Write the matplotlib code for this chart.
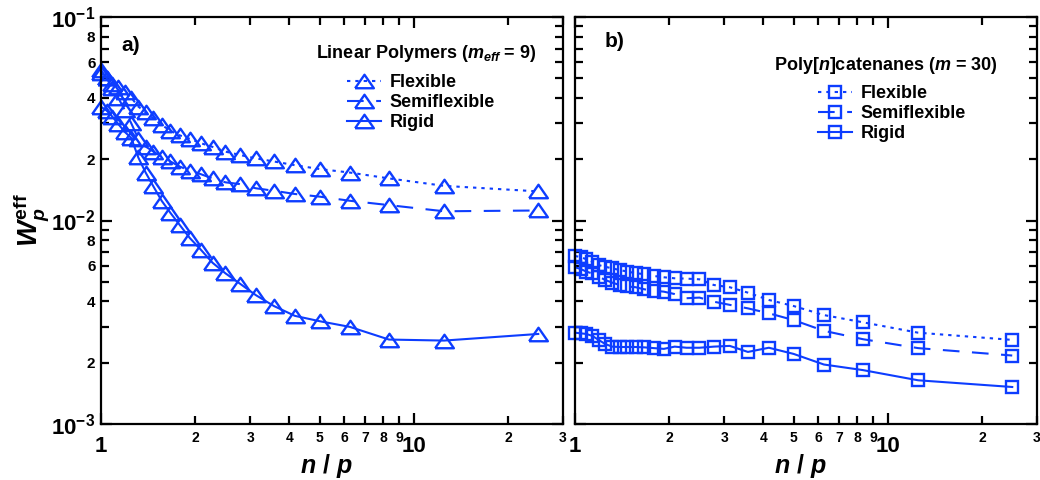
import matplotlib
matplotlib.use("Agg")
import matplotlib.pyplot as plt
from matplotlib.lines import Line2D
from matplotlib.ticker import FixedLocator, FixedFormatter, NullFormatter

plt.rcParams['font.family'] = ['Liberation Sans', 'DejaVu Sans']
plt.rcParams['font.weight'] = 'bold'
plt.rcParams['mathtext.fontset'] = 'custom'
plt.rcParams['mathtext.rm'] = 'Liberation Sans:bold'
plt.rcParams['mathtext.bf'] = 'Liberation Sans:bold'
plt.rcParams['mathtext.it'] = 'Liberation Sans:italic:bold'
plt.rcParams['mathtext.sf'] = 'Liberation Sans:bold'

# ---------------- data ----------------
n_over_p = [1, 1.042, 1.087, 1.136, 1.19, 1.25, 1.316, 1.389, 1.471, 1.563,
            1.667, 1.786, 1.923, 2.083, 2.273, 2.5, 2.778, 3.125, 3.571, 4.167,
            5, 6.25, 8.333, 12.5, 25]

lin_flexible = [0.053, 0.050, 0.047, 0.0452, 0.0427, 0.0401, 0.0363, 0.0340, 0.0318, 0.0295,
                0.0276, 0.0262, 0.0252, 0.0240, 0.0230, 0.0218, 0.0210, 0.0202, 0.0195, 0.0187,
                0.0179, 0.0172, 0.0161, 0.0148, 0.0139]
lin_semiflexible = [0.055, 0.050, 0.045, 0.040, 0.035, 0.030, 0.0252, 0.0231, 0.0218, 0.0206,
                    0.0195, 0.0184, 0.0176, 0.0169, 0.0161, 0.0154, 0.0151, 0.0144, 0.0140, 0.0135,
                    0.0131, 0.0125, 0.0119, 0.0111, 0.0112]
lin_rigid = [0.0362, 0.0347, 0.0324, 0.0298, 0.0273, 0.0254, 0.0204, 0.0172, 0.0147, 0.0125,
             0.0109, 0.0095, 0.0082, 0.0072, 0.0062, 0.0055, 0.0049, 0.0043, 0.0038, 0.0034,
             0.0032, 0.0030, 0.0026, 0.00257, 0.00277]

cat_flexible = [0.00669, 0.00662, 0.00645, 0.00627, 0.00604, 0.00592, 0.00582, 0.00571, 0.00561, 0.00551,
                0.00545, 0.00534, 0.00526, 0.00520, 0.00518, 0.00514, 0.00482, 0.00470, 0.00442, 0.00407,
                0.00380, 0.00343, 0.00316, 0.00281, 0.00259]
cat_semiflexible = [0.00589, 0.00578, 0.00561, 0.00549, 0.00530, 0.00510, 0.00495, 0.00482, 0.00474, 0.00470,
                    0.00459, 0.00452, 0.00447, 0.00435, 0.00415, 0.00418, 0.00399, 0.00385, 0.00370, 0.00350,
                    0.00324, 0.00287, 0.00261, 0.00236, 0.00217]
cat_rigid = [0.00281, 0.00279, 0.00277, 0.00271, 0.00259, 0.00247, 0.00240, 0.00239, 0.00239, 0.00239,
             0.00238, 0.00236, 0.00234, 0.00240, 0.00237, 0.00237, 0.00240, 0.00242, 0.00226, 0.00237,
             0.00221, 0.00196, 0.00184, 0.00164, 0.00152]

series_labels = ['Flexible', 'Semiflexible', 'Rigid']
legend_titles = [r'Linear Polymers ($m_{eff}$ = 9)', r'Poly[$n$]catenanes ($m$ = 30)']
x_major = [1, 10]
x_major_labels = ['1', '10']
x_minor = [2, 3, 4, 5, 6, 7, 8, 9, 20, 30]
x_minor_labels = ['2', '3', '4', '5', '6', '7', '8', '9', '2', '3']
y_major = [1e-3, 1e-2, 1e-1]
y_major_labels = [r'$10^{-3}$', r'$10^{-2}$', r'$10^{-1}$']
y_minor = [2e-3, 3e-3, 4e-3, 5e-3, 6e-3, 7e-3, 8e-3, 9e-3,
           2e-2, 3e-2, 4e-2, 5e-2, 6e-2, 7e-2, 8e-2, 9e-2]
y_minor_labels = ['2', '', '4', '', '6', '', '8', '',
                  '2', '', '4', '', '6', '', '8', '']

# ---------------- style ----------------
BLUE = '#0d3dff'
LW = 1.5
styles = [(0, (1.6, 2.4)), (0, (8, 6)), '-']
tri = [(-1.0, -0.72), (1.0, -0.72), (0.0, 0.72), (-1.0, -0.72)]

fig = plt.figure(figsize=(10.4, 4.8), dpi=100)
W, H = 1040, 480
axA = fig.add_axes([101 / W, 1 - 424 / H, 462 / W, 407 / H])
axB = fig.add_axes([575 / W, 1 - 424 / H, 462 / W, 407 / H])

for ax, ys, mk, ms in [(axA, [lin_flexible, lin_semiflexible, lin_rigid], tri, 13.5),
                       (axB, [cat_flexible, cat_semiflexible, cat_rigid], 's', 9)]:
    for y, ls in zip(ys, styles):
        ax.plot(n_over_p, y, linestyle=ls, color=BLUE, lw=LW, marker=mk, ms=ms,
                mfc='none', mec=BLUE, mew=1.7, clip_on=False)
    ax.set_xscale('log')
    ax.set_yscale('log')
    ax.set_xlim(1, 30)
    ax.set_ylim(1e-3, 1e-1)
    for s in ax.spines.values():
        s.set_linewidth(1.6)
    ax.xaxis.set_major_locator(FixedLocator(x_major))
    ax.xaxis.set_minor_locator(FixedLocator(x_minor))
    ax.yaxis.set_major_locator(FixedLocator(y_major))
    ax.yaxis.set_minor_locator(FixedLocator(y_minor))
    ax.tick_params(which='both', direction='in', top=True, right=True, width=1.6)
    ax.tick_params(which='major', length=8)
    ax.tick_params(which='minor', length=6)
    ax.xaxis.set_major_formatter(FixedFormatter(x_major_labels))
    ax.xaxis.set_minor_formatter(FixedFormatter(x_minor_labels))
    ax.tick_params(axis='x', which='major', labelsize=16, pad=9)
    ax.tick_params(axis='x', which='minor', labelsize=10, pad=5)
    pos = ax.get_position()
    fig.text((pos.x0 + pos.x1) / 2 - 6 / W, 1 - 466 / H, r'$n$ / $p$', fontsize=18,
             ha='center', va='center')

axA.yaxis.set_major_formatter(FixedFormatter(y_major_labels))
axA.yaxis.set_minor_formatter(FixedFormatter(y_minor_labels))
axA.tick_params(axis='y', which='major', labelsize=16, pad=4)
axA.tick_params(axis='y', which='minor', labelsize=11, pad=4)
axB.yaxis.set_major_formatter(NullFormatter())
axB.yaxis.set_minor_formatter(NullFormatter())
fig.text(31 / W, 1 - 220 / H, r'$W_p^{\mathrm{eff}}$', fontsize=20, rotation=90,
         ha='center', va='center')

axA.text(0.045, 0.93, 'a)', transform=axA.transAxes, fontsize=15, fontweight='bold', va='center')
axB.text(0.065, 0.94, 'b)', transform=axB.transAxes, fontsize=15, fontweight='bold', va='center')

def handles(mk, ms):
    return [Line2D([], [], linestyle=ls, color=BLUE, lw=LW, marker=mk, ms=ms,
                   mfc='none', mec=BLUE, mew=1.7) for ls in styles]

# legend titles as separate text, legends without titles
fig.text(426 / W, 1 - 53 / H, legend_titles[0], fontsize=13, fontweight='bold',
         ha='center', va='center')
fig.text(886 / W, 1 - 66 / H, legend_titles[1], fontsize=13, fontweight='bold',
         ha='center', va='center')

axA.legend(handles(tri, 13.5), series_labels, fontsize=13,
           loc='upper center', bbox_to_anchor=(421 / W, 1 - 65 / H),
           bbox_transform=fig.transFigure, frameon=False, numpoints=1,
           handlelength=1.9, handletextpad=0.45, labelspacing=0.17, borderpad=0)
axB.legend(handles('s', 9), series_labels, fontsize=13,
           loc='upper center', bbox_to_anchor=(892 / W, 1 - 76 / H),
           bbox_transform=fig.transFigure, frameon=False, numpoints=1,
           handlelength=1.9, handletextpad=0.45, labelspacing=0.17, borderpad=0)

fig.savefig('out.png', dpi=100)
